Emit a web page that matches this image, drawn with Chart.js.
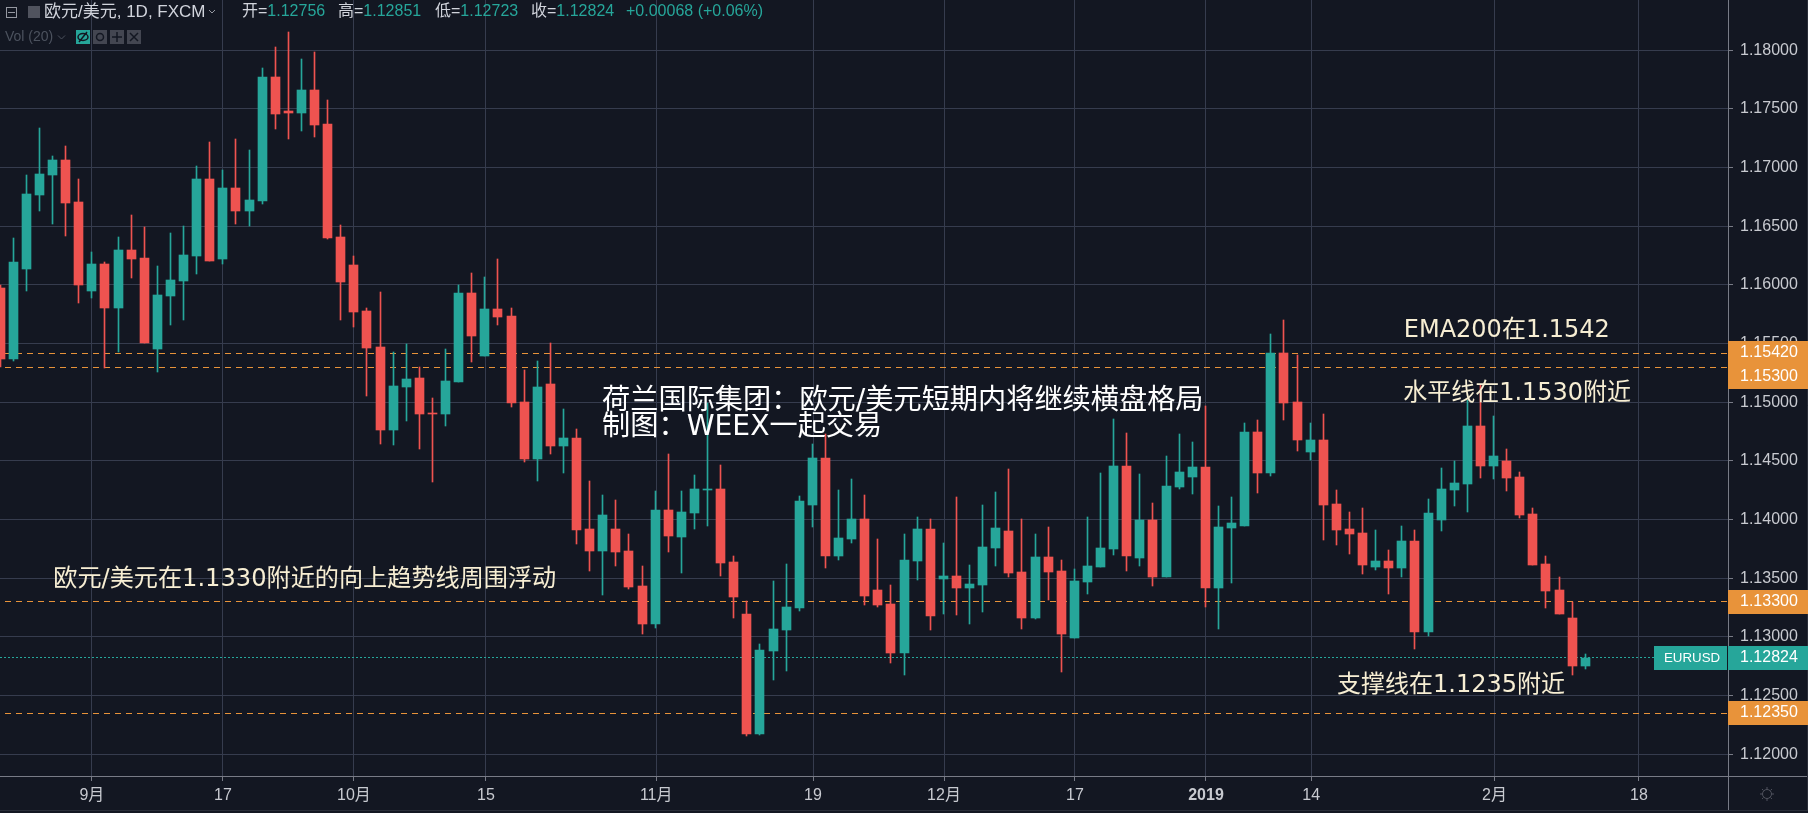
<!DOCTYPE html>
<html>
<head>
<meta charset="utf-8">
<title>EURUSD</title>
<script src="https://cdn.jsdelivr.net/npm/chart.js@4/dist/chart.umd.min.js"></script>
<style>
html, body { margin: 0; padding: 0; background: #131722; overflow: hidden; }
canvas { display: block; }
</style>
</head>
<body>
<canvas id="chart" width="1808" height="813"></canvas>
<script>
var openValues = [1.15974,1.15369,1.16136,1.16767,1.16938,1.17065,1.16707,1.15949,1.16179,1.15804,1.16298,1.1623,1.15455,1.15906,1.16034,1.16247,1.16903,1.16222,1.16827,1.16631,1.16716,1.17773,1.17483,1.17466,1.17662,1.17372,1.16409,1.1617,1.15778,1.15472,
    1.14764,1.15131,1.15207,1.14909,1.14901,1.15173,1.15932,1.15395,1.15795,1.15736,1.15003,1.14517,1.15156,1.14628,1.14696,1.1392,1.13733,1.1392,1.13733,1.13435,
    1.13111,1.14082,1.13852,1.14057,1.14253,1.14261,1.13639,1.13196,1.12173,1.12881,1.1306,1.13247,1.14125,1.14525,1.1369,1.13835,1.14006,1.134,1.13281,1.12864,
    1.13648,1.1392,1.13494,1.1352,1.13418,1.13443,1.13758,1.13903,1.13554,1.13162,1.13682,1.13562,1.12991,1.13469,1.13596,1.1375,1.14457,1.13673,1.13997,1.13511,
    1.14278,1.14364,1.14449,1.13418,1.13929,1.13946,1.14747,1.14398,1.1542,1.15003,1.14577,1.14679,1.14133,1.1392,1.13886,1.13596,1.13648,1.13588,1.13818,1.13042,
    1.13997,1.14253,1.14304,1.14798,1.14457,1.145,1.14364,1.14048,1.13622,1.134,1.13162,1.12756];
var highValues = [1.16,1.16401,1.16938,1.17338,1.17099,1.17185,1.16903,1.16281,1.16196,1.16409,1.16597,1.16494,1.16162,1.16443,1.16503,1.17014,1.17219,1.1698,1.17244,1.17151,1.17849,1.18028,1.18156,1.17926,1.17986,1.17577,1.16511,1.16247,1.15804,1.1594,
    1.15429,1.15497,1.15301,1.15037,1.15455,1.16,1.16102,1.16068,1.16222,1.15804,1.15276,1.15352,1.15506,1.14943,1.14773,1.1433,1.1421,1.14168,1.13878,1.13605,
    1.14244,1.1456,1.14244,1.14381,1.14991,1.14466,1.1369,1.13307,1.1294,1.13477,1.13622,1.14202,1.14645,1.1473,1.14253,1.14346,1.1421,1.13835,1.13443,1.13878,
    1.14023,1.14006,1.13801,1.14193,1.13614,1.14125,1.14236,1.14432,1.14006,1.13878,1.13937,1.13656,1.13579,1.14023,1.14398,1.14858,1.14739,1.14389,1.14142,1.14542,
    1.1473,1.14662,1.14969,1.14116,1.14193,1.14824,1.14849,1.15582,1.15702,1.15403,1.14824,1.14901,1.14253,1.14065,1.14099,1.13912,1.13741,1.13946,1.13912,1.14176,
    1.1444,1.145,1.1502,1.15148,1.14883,1.14602,1.14406,1.14099,1.1369,1.13511,1.13298,1.12851];
var lowValues = [1.15304,1.15352,1.15949,1.16631,1.1652,1.16418,1.15847,1.15889,1.15295,1.15429,1.1606,1.15506,1.15259,1.15659,1.15702,1.16094,1.16205,1.16179,1.1652,1.16503,1.1669,1.1733,1.17244,1.17312,1.17261,1.16392,1.15702,1.15642,1.15054,1.14645,
    1.14636,1.14841,1.14602,1.14321,1.14798,1.15173,1.15344,1.15395,1.15659,1.1496,1.14491,1.1433,1.1456,1.14398,1.13793,1.13562,1.13358,1.13605,1.13409,1.13025,
    1.13077,1.13724,1.13545,1.1392,1.13946,1.1352,1.13162,1.12156,1.12165,1.12633,1.1271,1.13222,1.13937,1.13588,1.13656,1.13801,1.13273,1.13256,1.12778,1.12676,
    1.13486,1.1306,1.13196,1.13187,1.13111,1.13213,1.13605,1.13511,1.13068,1.13153,1.13315,1.12702,1.12991,1.13366,1.13596,1.13699,1.13562,1.13605,1.13435,1.13511,
    1.14261,1.14219,1.13256,1.13068,1.1346,1.13946,1.14227,1.14372,1.14849,1.14585,1.14508,1.13827,1.13784,1.13707,1.13537,1.13571,1.13366,1.13511,1.12898,1.13008,
    1.13903,1.14116,1.14065,1.14355,1.14346,1.14244,1.14014,1.13614,1.13247,1.13196,1.12676,1.12723];
var closeValues = [1.15369,1.16196,1.16776,1.16946,1.17065,1.16699,1.16,1.16179,1.15804,1.16298,1.16222,1.15506,1.15915,1.16043,1.16256,1.16903,1.16205,1.16827,1.16631,1.16724,1.17773,1.17457,1.17466,1.17662,1.17364,1.16401,1.16026,1.1577,1.15463,1.14764,
    1.15139,1.15199,1.14901,1.14901,1.15182,1.15932,1.15565,1.15795,1.15727,1.14994,1.14517,1.15131,1.14628,1.14696,1.13912,1.13733,1.1404,1.13724,1.13426,1.13111,
    1.14082,1.13861,1.14065,1.14261,1.14261,1.13631,1.13341,1.12173,1.12889,1.13068,1.13256,1.14159,1.14525,1.1369,1.13844,1.14006,1.13349,1.13273,1.12864,1.13656,
    1.1392,1.13179,1.1352,1.13418,1.13452,1.13767,1.13929,1.13545,1.13162,1.13682,1.13554,1.13025,1.13477,1.13605,1.13758,1.14457,1.1369,1.13997,1.13511,1.14287,
    1.14406,1.14449,1.13418,1.13937,1.13971,1.14747,1.14398,1.1542,1.14994,1.14679,1.14679,1.14125,1.13912,1.13878,1.13614,1.13648,1.13588,1.13818,1.13042,1.14057,
    1.14261,1.14312,1.14798,1.14457,1.14542,1.14355,1.1404,1.13614,1.13392,1.13196,1.12753,1.12824];

var xTickIndex = [7, 17, 27, 37.08, 50.08, 62.05, 72.05, 82.05, 92.05, 100.08, 114.08, 125.1];
var xTickLabels = ['9月', '17', '10月', '15', '11月', '19', '12月', '17', '2019', '14', '2月', '18'];
var yTickValues = [1.12, 1.125, 1.13, 1.135, 1.14, 1.145, 1.15, 1.155, 1.16, 1.165, 1.17, 1.175, 1.18];

var priceLevels = [1.1542, 1.153, 1.133, 1.1235];
var lastPrice = 1.12824;
var symbolName = 'EURUSD';

// x is bar number, y is price: where each note sits on the chart
var noteTexts = ['荷兰国际集团：欧元/美元短期内将继续横盘格局', '制图：WEEX一起交易', 'EMA200在1.1542', '水平线在1.1530附近', '欧元/美元在1.1330附近的向上趋势线周围浮动', '支撑线在1.1235附近'];
var noteX = [45.95, 45.95, 107.15, 107.1, 4.05, 102.05];
var noteY = [1.15006, 1.14783, 1.15611, 1.15073, 1.1349, 1.1258];
var noteColors = ['#ffffff', '#ffffff', '#f7eed3', '#f7eed3', '#f7eed3', '#f7eed3'];
var noteSizes = [28.2, 28.2, 24, 24, 24.15, 24];

var headerLabels = ['开=', '高=', '低=', '收='];
var headerValues = ['1.12756', '1.12851', '1.12723', '1.12824'];
var headerX = [242, 338, 435, 531];

var background = '#131722';
var upColor = '#26a69a';
var downColor = '#ef5350';
var gridColor = '#363c4e';
var axisColor = '#787b86';
var textColor = '#c8cad0';
var orange = '#e8933a';
var sansFont = '"Liberation Sans","Noto Sans CJK SC"';
var noteFont = '"DejaVu Sans","Noto Sans CJK SC"';

var xMin = -0.015;
var xMax = 131.9;
var bodies = [];
var wicks = [];
for (var i = 0; i < openValues.length; i++) {
    bodies.push({ x: i, y: [openValues[i], closeValues[i]] });
    wicks.push({ x: i, y: [lowValues[i], highValues[i]] });
}
var candleColors = openValues.map(function(o, i) {
    return closeValues[i] >= o ? upColor : downColor;
});

var datasets = [
    { type: 'bar', data: bodies, backgroundColor: candleColors, barThickness: 9, grouped: false, order: 1 },
    { type: 'bar', data: wicks, backgroundColor: candleColors, barThickness: 1, grouped: false, order: 2 }
];
priceLevels.forEach(function(level) {
    datasets.push({
        type: 'line',
        data: [{ x: xMin, y: level }, { x: xMax, y: level }],
        borderColor: orange,
        borderWidth: 1,
        borderDash: [6, 5],
        borderDashOffset: 6,
        pointRadius: 0,
        order: 3
    });
});
datasets.push({
    type: 'line',
    data: [{ x: xMin, y: lastPrice }, { x: xMax, y: lastPrice }],
    borderColor: upColor,
    borderWidth: 1,
    borderDash: [2, 2],
    pointRadius: 0,
    order: 3
});

// keep candles and level lines on whole pixels, like the original terminal
var snapPlugin = {
    id: 'snap',
    afterDatasetsUpdate: function(chart) {
        chart.data.datasets.forEach(function(ds, n) {
            chart.getDatasetMeta(n).data.forEach(function(el) {
                if (ds.type == 'bar') {
                    el.x = Math.floor(el.x) + 0.5;
                    el.y = Math.round(el.y);
                    el.base = Math.round(el.base);
                    if (Math.abs(el.base - el.y) < 1) {
                        el.base = el.y + 1;
                    }
                } else {
                    el.y = Math.floor(el.y) + 0.5;
                }
            });
        });
    }
};

function box(ctx, x, y, w, h, color) {
    ctx.fillStyle = color;
    ctx.fillRect(x, y, w, h);
}

function drawHeader(ctx) {
    ctx.textAlign = 'left';
    ctx.textBaseline = 'middle';

    ctx.strokeStyle = '#9598a1';
    ctx.lineWidth = 1;
    ctx.strokeRect(6.5, 7.5, 10, 10);
    ctx.beginPath();
    ctx.moveTo(8, 12.5);
    ctx.lineTo(15, 12.5);
    ctx.stroke();
    box(ctx, 28, 6, 12, 12, '#50535e');

    ctx.fillStyle = '#d1d4dc';
    ctx.font = '17px ' + sansFont;
    ctx.fillText('欧元/美元, 1D, FXCM', 44, 12);
    ctx.beginPath();
    ctx.moveTo(209, 10);
    ctx.lineTo(212, 13);
    ctx.lineTo(215, 10);
    ctx.stroke();

    headerLabels.forEach(function(label, n) {
        ctx.font = '16px ' + sansFont;
        ctx.fillStyle = '#d1d4dc';
        ctx.fillText(label, headerX[n], 12);
        var w = ctx.measureText(label).width;
        ctx.fillStyle = upColor;
        ctx.fillText(headerValues[n], headerX[n] + w, 12);
    });
    ctx.fillStyle = upColor;
    ctx.fillText('+0.00068 (+0.06%)', 626, 12);

    ctx.fillStyle = '#4c525e';
    ctx.font = '14px ' + sansFont;
    ctx.fillText('Vol (20)', 5, 37);
    ctx.strokeStyle = '#4c525e';
    ctx.beginPath();
    ctx.moveTo(58, 35.5);
    ctx.lineTo(61.5, 39);
    ctx.lineTo(65, 35.5);
    ctx.stroke();

    box(ctx, 76, 30, 14, 14, upColor);
    ctx.strokeStyle = background;
    ctx.lineWidth = 1.5;
    ctx.beginPath();
    ctx.ellipse(83, 37, 5, 3.5, 0, 0, Math.PI * 2);
    ctx.moveTo(79, 42);
    ctx.lineTo(87, 32);
    ctx.stroke();

    box(ctx, 93, 30, 14, 14, '#434651');
    ctx.beginPath();
    ctx.arc(100, 37, 3.5, 0, Math.PI * 2);
    ctx.stroke();

    box(ctx, 110, 30, 14, 14, '#434651');
    ctx.beginPath();
    ctx.moveTo(117, 32);
    ctx.lineTo(117, 42);
    ctx.moveTo(112, 37);
    ctx.lineTo(122, 37);
    ctx.stroke();

    box(ctx, 127, 30, 14, 14, '#434651');
    ctx.beginPath();
    ctx.moveTo(130, 33);
    ctx.lineTo(138, 41);
    ctx.moveTo(138, 33);
    ctx.lineTo(130, 41);
    ctx.stroke();
    ctx.lineWidth = 1;
}

function drawNotes(chart, ctx) {
    ctx.textAlign = 'left';
    ctx.textBaseline = 'middle';
    noteTexts.forEach(function(text, n) {
        ctx.font = noteSizes[n] + 'px ' + noteFont;
        ctx.fillStyle = noteColors[n];
        ctx.fillText(text, chart.scales.x.getPixelForValue(noteX[n]), chart.scales.y.getPixelForValue(noteY[n]));
    });
}

function drawPriceLabels(chart, ctx) {
    var yScale = chart.scales.y;
    var right = chart.chartArea.right;
    var h = 24;
    var prev = -100;
    ctx.textAlign = 'left';
    ctx.textBaseline = 'middle';
    ctx.font = '16px ' + sansFont;
    priceLevels.forEach(function(level) {
        var center = Math.round(yScale.getPixelForValue(level));
        if (center - prev < h) {
            center = prev + h;
        }
        prev = center;
        box(ctx, right, center - h / 2, 80, h, orange);
        ctx.fillStyle = '#ffffff';
        ctx.fillText(level.toFixed(5), right + 12, center);
    });

    var c = Math.round(yScale.getPixelForValue(lastPrice));
    box(ctx, right - 74, c - h / 2, 73, h, upColor);
    box(ctx, right, c - h / 2, 80, h, upColor);
    ctx.fillStyle = '#ffffff';
    ctx.fillText(lastPrice.toFixed(5), right + 12, c);
    ctx.font = '13.3px ' + sansFont;
    ctx.fillText(symbolName, right - 64, c);
}

function drawCorner(chart, ctx) {
    var area = chart.chartArea;
    ctx.strokeStyle = axisColor;
    ctx.lineWidth = 1;
    ctx.beginPath();
    ctx.moveTo(area.right + 0.5, 0);
    ctx.lineTo(area.right + 0.5, 810);
    ctx.moveTo(0, area.bottom + 0.5);
    ctx.lineTo(1808, area.bottom + 0.5);
    ctx.stroke();

    ctx.strokeStyle = '#2a2e39';
    ctx.beginPath();
    ctx.moveTo(0, 810.5);
    ctx.lineTo(1808, 810.5);
    ctx.moveTo(1807.5, 0);
    ctx.lineTo(1807.5, 811);
    ctx.stroke();

    // settings sun icon
    ctx.strokeStyle = '#50535e';
    ctx.beginPath();
    ctx.arc(1767, 794, 4.5, 0, Math.PI * 2);
    for (var a = 0; a < 8; a++) {
        var t = a * Math.PI / 4;
        ctx.moveTo(1767 + Math.cos(t) * 5, 794 + Math.sin(t) * 5);
        ctx.lineTo(1767 + Math.cos(t) * 7, 794 + Math.sin(t) * 7);
    }
    ctx.stroke();
}

var overlayPlugin = {
    id: 'overlay',
    beforeDraw: function(chart) {
        box(chart.ctx, 0, 0, chart.width, chart.height, background);
    },
    afterDraw: function(chart) {
        var ctx = chart.ctx;
        ctx.save();
        drawCorner(chart, ctx);
        drawPriceLabels(chart, ctx);
        drawNotes(chart, ctx);
        drawHeader(ctx);
        ctx.restore();
    }
};

new Chart(document.getElementById('chart').getContext('2d'), {
    type: 'bar',
    data: { datasets: datasets },
    plugins: [snapPlugin, overlayPlugin],
    options: {
        responsive: false,
        animation: false,
        layout: { autoPadding: false, padding: { left: 0, right: 0, top: 0, bottom: 3 } },
        plugins: {
            legend: { display: false },
            tooltip: { enabled: false }
        },
        scales: {
            x: {
                type: 'linear',
                min: xMin,
                max: xMax,
                offset: false,
                afterBuildTicks: function(scale) {
                    scale.ticks = xTickIndex.map(function(v) { return { value: v }; });
                },
                afterFit: function(scale) {
                    scale.height = 34;
                    scale.paddingLeft = 0;
                    scale.paddingRight = 0;
                },
                grid: { color: gridColor, tickColor: axisColor, tickLength: 5, offset: false },
                border: { display: false },
                ticks: {
                    autoSkip: false,
                    maxRotation: 0,
                    padding: 5,
                    color: textColor,
                    font: function(ctx) {
                        var bold = ctx.tick && ctx.tick.label == '2019';
                        return { family: sansFont, size: 16, weight: bold ? 'bold' : 'normal' };
                    },
                    callback: function(value) {
                        return xTickLabels[xTickIndex.indexOf(value)];
                    }
                }
            },
            y: {
                position: 'right',
                min: 1.118149,
                max: 1.184287,
                afterBuildTicks: function(scale) {
                    scale.ticks = yTickValues.map(function(v) { return { value: v }; });
                },
                afterFit: function(scale) {
                    scale.width = 80;
                    scale.paddingTop = 0;
                    scale.paddingBottom = 0;
                },
                grid: { color: gridColor, tickColor: axisColor, tickLength: 5 },
                border: { display: false },
                ticks: {
                    padding: 7,
                    color: textColor,
                    font: { family: sansFont, size: 16 },
                    callback: function(value) { return value.toFixed(5); }
                }
            }
        }
    }
});
</script>
</body>
</html>
